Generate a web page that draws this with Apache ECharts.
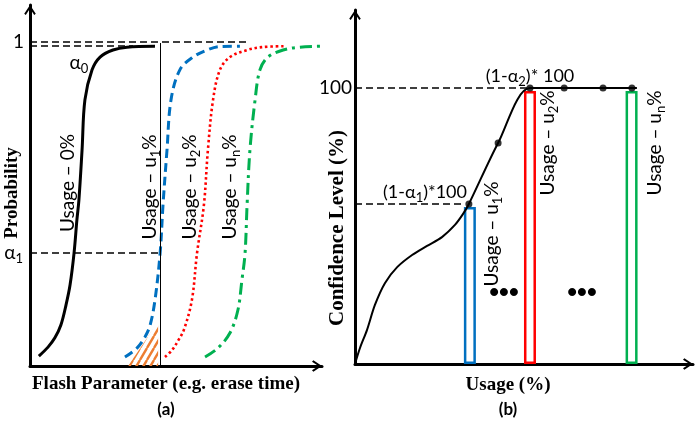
<!DOCTYPE html>
<html><head><meta charset="utf-8">
<script src="https://cdn.jsdelivr.net/npm/echarts@6/dist/echarts.min.js"></script>
<style>html,body{margin:0;padding:0;background:#fff}#c{width:697px;height:426px}</style>
</head><body><div id="c"></div>
<script>
// ---------- Panel (a): probability vs flash parameter ----------
const curveUsage0 = [[3.1,0.031],[6.3,0.059],[8.7,0.088],[10.8,0.128],[12.6,0.191],[14.0,0.253],[15.4,0.353],[16.4,0.457],[17.1,0.519],[18.2,0.675],[19.2,0.832],[21.7,0.926],[24.5,0.966],[29.0,0.988],[33.9,0.997],[43.7,1.0]];
const curveUsageU1 = [[33.2,0.028],[37.4,0.056],[40.2,0.091],[42.0,0.128],[43.7,0.206],[45.5,0.353],[46.5,0.503],[47.9,0.675],[49.3,0.832],[52.4,0.926],[57.0,0.966],[61.9,0.988],[66.4,0.999],[73.4,1.0]];
const curveUsageU2 = [[47.2,0.028],[49.7,0.050],[51.7,0.078],[53.8,0.113],[56.6,0.206],[58.4,0.353],[60.8,0.503],[62.2,0.675],[64.0,0.832],[66.4,0.926],[69.9,0.966],[75.9,0.988],[81.1,0.997],[89.2,1.0]];
const curveUsageUn = [[61.2,0.028],[65.7,0.056],[69.9,0.103],[72.7,0.175],[74.1,0.269],[75.2,0.353],[75.9,0.503],[76.9,0.675],[78.7,0.832],[80.4,0.926],[83.2,0.966],[88.5,0.988],[94.4,0.997],[103.1,1.0]];
const hatchEdge = [[34.3,0],[44.8,0.138]];
const levelOne = 1.013, levelOneEnd = 76.9;
const levelAlpha0 = 1.0, levelAlpha0End = 36.0;
const levelAlpha1 = 0.353, paramU1 = 45.5, paramU1Top = 1.01;

// ---------- Panel (b): confidence level vs usage ----------
const confidenceCurve = [[0,0],[1.5,5.8],[3.6,12.3],[6.0,21.4],[9.0,29.3],[12.7,35.1],[17.2,39.5],[21.7,42.8],[26.2,46.0],[30.1,50.4],[32.5,54.3],[34.3,58.0],[43.1,80.1],[52.7,100],[63.0,100],[74.7,100],[84.9,100]];
const confidencePoints = [[34.3,58.0],[43.1,80.1],[52.7,100],[63.0,100],[74.7,100],[83.4,100]];
const usageBars = [[34.6,56.9],[52.7,98.9],[83.3,98.9]];
const barColors = ['#0070c0','#ff0000','#00b050'];
const level100 = 100, level100End = 52.7;
const levelC1 = 58.0, levelC1End = 33.1;

const chart = echarts.init(document.getElementById('c'), null, {renderer:'canvas'});

function hatchPattern(){
  const c = document.createElement('canvas');
  const w = 7, h = 12; c.width = w; c.height = h;
  const g = c.getContext('2d');
  g.strokeStyle = '#ed7d31'; g.lineWidth = 2.4;
  g.beginPath();
  [-w, 0, w].forEach(dx => { g.moveTo(dx, h); g.lineTo(dx + w, 0); });
  g.stroke();
  return c;
}

const arrowPath = 'path://M0,9 L6,0 L12,9 L10.4,10.4 L6,3.6 L1.6,10.4 Z';
function axisCfg(grid, max){
  return {gridIndex:grid, type:'value', min:0, max:max,
    axisLine:{show:true, lineStyle:{color:'#000', width:3}, symbol:['none', arrowPath], symbolSize:[12,10], symbolOffset:[0,-5]},
    axisTick:{show:false}, axisLabel:{show:false}, splitLine:{show:false}};
}
const subRich = {s:{fontSize:13, fontFamily:'Lato', lineHeight:13, verticalAlign:'bottom', color:'#000'}};
const labelFont = {color:'#000', fontSize:19, fontFamily:'Lato', lineHeight:24, rich:subRich};

function txt(x, y, text, font, rot, extra){
  return Object.assign({type:'text', x:x, y:y, rotation:rot || 0, z:100,
    style:Object.assign({text:text, fill:'#000', align:'center', verticalAlign:'middle', font:font, lineHeight:24, rich:subRich}, extra || {})});
}
const V = Math.PI/2;
const serifB = 'bold 19px "Liberation Serif"';
const sans = '19px Lato';

chart.setOption({
  animation:false,
  grid:[
    {left:30, top:5, width:292, height:361},
    {left:355, top:10, width:338, height:354}
  ],
  xAxis:[axisCfg(0, 102.1), axisCfg(1, 101.8)],
  yAxis:[axisCfg(0, 1.1288), axisCfg(1, 128.3)],
  series:[
    {type:'line', xAxisIndex:0, yAxisIndex:0, data:curveUsage0, smooth:0.35, showSymbol:false, clip:false,
     lineStyle:{color:'#000', width:3},
     markLine:{silent:true, symbol:'none', animation:false,
       lineStyle:{color:'#000', width:1.5, type:[7,4]}, label:{show:false},
       data:[
         [{coord:[0, levelOne], label:Object.assign({show:true, position:'start', distance:6, formatter:'1'}, labelFont)}, {coord:[levelOneEnd, levelOne]}],
         [{coord:[0, levelAlpha0]}, {coord:[levelAlpha0End, levelAlpha0]}],
         [{coord:[0, levelAlpha1], label:Object.assign({show:true, position:'start', distance:7, formatter:'α{s|1}'}, labelFont)}, {coord:[paramU1, levelAlpha1]}],
         [{coord:[paramU1, 0], lineStyle:{type:'solid', width:1}}, {coord:[paramU1, paramU1Top], lineStyle:{type:'solid', width:1}}]
       ]}},
    {type:'line', xAxisIndex:0, yAxisIndex:0, data:curveUsageU1, smooth:0.35, showSymbol:false, clip:false,
     lineStyle:{color:'#0070c0', width:3, type:[9,5]}},
    {type:'line', xAxisIndex:0, yAxisIndex:0, data:curveUsageU2, smooth:0.35, showSymbol:false, clip:false,
     lineStyle:{color:'#ff0000', width:2.6, type:[2.5,2.8]}},
    {type:'line', xAxisIndex:0, yAxisIndex:0, data:curveUsageUn, smooth:0.35, showSymbol:false, clip:false,
     lineStyle:{color:'#00b050', width:3, type:[12,5,3,5]}},
    {type:'line', xAxisIndex:0, yAxisIndex:0, data:hatchEdge, showSymbol:false, lineStyle:{width:0},
     areaStyle:{color:{image:hatchPattern(), repeat:'repeat'}, opacity:1}},

    {type:'line', xAxisIndex:1, yAxisIndex:1, data:confidenceCurve, smooth:0.3, showSymbol:false, clip:false,
     lineStyle:{color:'#000', width:2}, z:3,
     markLine:{silent:true, symbol:'none', animation:false,
       lineStyle:{color:'#000', width:1.5, type:[7,4]}, label:{show:false},
       data:[
         [{coord:[0, level100], label:Object.assign({show:true, position:'start', distance:3, formatter:'100'}, labelFont)}, {coord:[level100End, level100]}],
         [{coord:[0, levelC1]}, {coord:[levelC1End, levelC1]}]
       ]}},
    {type:'scatter', xAxisIndex:1, yAxisIndex:1, data:confidencePoints, symbolSize:7, itemStyle:{color:'#000'}, z:4},
    {type:'bar', xAxisIndex:1, yAxisIndex:1, barWidth:12,
     data:usageBars.map((v,i)=>({value:v, itemStyle:{color:'rgba(0,0,0,0)', borderColor:barColors[i], borderWidth:2.5}}))}
  ],
  graphic:[
    txt(12, 193, 'Probability', serifB, V),
    txt(166, 384, 'Flash Parameter (e.g. erase time)', serifB, 0),
    txt(166, 410, '(a)', 'bold 17px Lato', 0),
    txt(79, 63, 'α{s|0}', sans, 0),
    txt(68, 183, 'Usage – 0%', sans, V),
    txt(150, 187, 'Usage – u{s|1}%', sans, V),
    txt(190, 187, 'Usage – u{s|2}%', sans, V),
    txt(230, 187, 'Usage – u{s|n}%', sans, V),

    txt(338, 228, 'Confidence Level (%)', 'bold 21px "Liberation Serif"', V),
    txt(508, 385, 'Usage (%)', serifB, 0),
    txt(508, 410, '(b)', 'bold 17px Lato', 0),
    txt(425, 192, '(1-α{s|1})*100', '18px Lato', 0),
    txt(530, 76, '(1-α{s|2})* 100', '18px Lato', 0),
    txt(492, 234, 'Usage – u{s|1}%', sans, V),
    txt(548, 143, 'Usage – u{s|2}%', sans, V),
    txt(655, 143, 'Usage – u{s|n}%', sans, V),
    txt(504, 293, '•••', 'bold 28px "Liberation Sans"', 0),
    txt(582, 293, '•••', 'bold 28px "Liberation Sans"', 0)
  ]
});
</script></body></html>
